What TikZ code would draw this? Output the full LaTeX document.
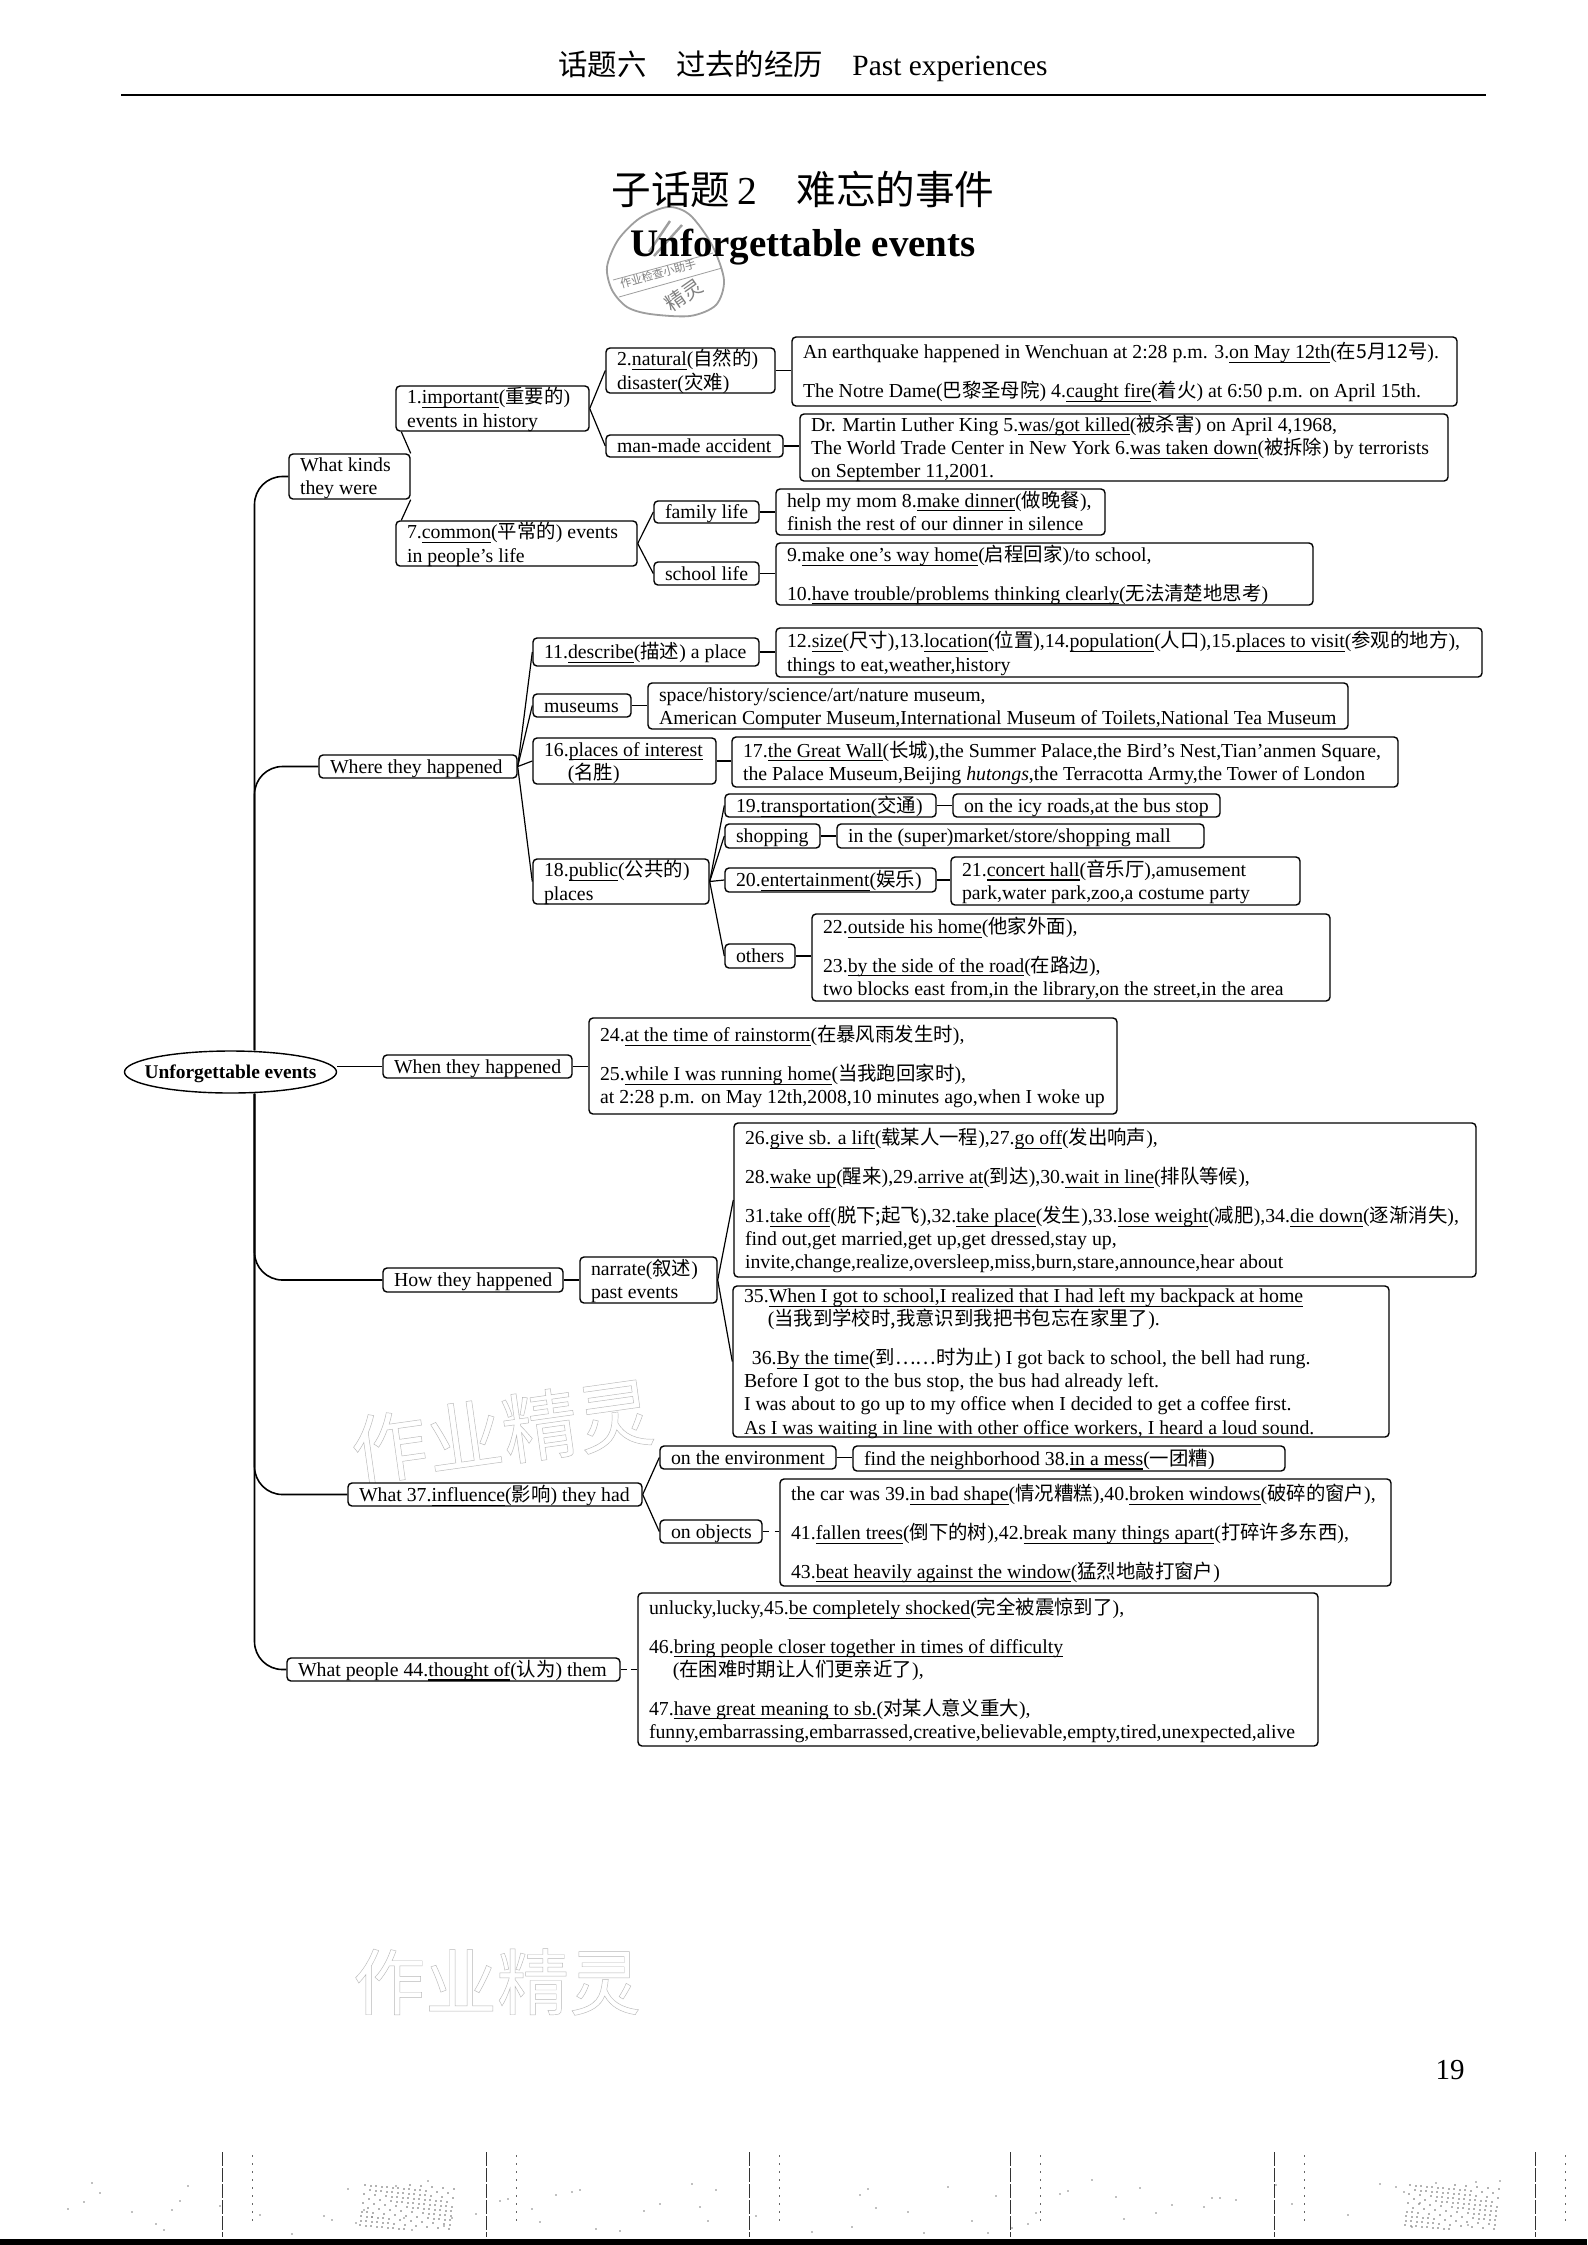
\documentclass[tikz,border=0pt]{standalone}
\usepackage{fontspec}
\setmainfont{Liberation Serif}
\newfontfamily\cjkf{Noto Sans CJK SC}
\newfontfamily\wmf[FakeBold=0.6]{Noto Sans CJK SC}
\usetikzlibrary{shapes.geometric}
\newcommand\zh[1]{{\cjkf\fontsize{9.7}{11.6}\selectfont #1}}
\newsavebox\unbox
\newcommand\un[1]{\sbox\unbox{#1}\rlap{\raisebox{-2.1pt}{\rule{\wd\unbox}{0.55pt}}}\usebox\unbox}
\tikzset{
  mbox/.style={draw=black,line width=0.7pt,rounded corners=2pt,fill=white,inner xsep=5.5pt,inner ysep=0pt,
     font=\fontsize{9.9}{11.6}\selectfont},
  conn/.style={draw=black,line width=0.6pt},
  trunk/.style={draw=black,line width=0.8pt,rounded corners=14pt},
  wm/.style={text=white,inner sep=0pt},
  stampline/.style={draw=black!38,line width=0.7pt},
  scanline/.style={draw=black!80,line width=0.4pt,dash pattern=on 7pt off 1pt},
  scandot/.style={draw=black!60,line width=0.4pt,dash pattern=on 1pt off 3pt},
}
\newcommand\bx[6]{%
  \pgfmathsetmacro\bxw{(#4-#2)*0.5}%
  \pgfmathsetmacro\bxh{(#5-#3)*0.5}%
  \pgfmathsetmacro\bxt{(#4-#2)*0.5-11}%
  \node[mbox,minimum width=\bxw pt,minimum height=\bxh pt] (#1) at ({(#2+#4)/2},{(#3+#5)/2}) {\makebox[\bxt pt][l]{\smash{\raisebox{-3.6pt}{\begin{tabular}{@{}l@{}}#6\end{tabular}}}}};}
\newcommand\gap{\\[7.7pt]}
\newcommand\wmstroke{\special{pdf:code 0.72 G}}
\begin{document}
\begin{tikzpicture}[x=0.5pt,y=-0.5pt]
\useasboundingbox (0,0) rectangle (1587,2245);
\fill[white] (0,0) rectangle (1587,2245);
% header
\node (hdr) at (803,66) {\fontsize{14.7}{16}\selectfont{\cjkf 话题六\quad 过去的经历}\quad Past experiences};
\coordinate (ruleL) at (121,95); \coordinate (ruleR) at (1486,95);
\draw[line width=0.7pt] (ruleL) -- (ruleR);
% stamp
\draw[stampline,line width=0.9pt] plot[smooth cycle] coordinates {(668,207) (690,215) (712,245) (724,280) (716,305) (690,316) (650,314) (627,307) (612,290) (607,267) (618,240) (640,218)};
\coordinate (sa1) at (613,280); \coordinate (sa2) at (713,253);
\coordinate (sb1) at (619,297); \coordinate (sb2) at (722,268);
\draw[stampline,line width=0.4pt] (sa1) -- (sa2);
\draw[stampline,line width=0.4pt] (sb1) -- (sb2);
\coordinate (ear1) at (649,252); \coordinate (ear2) at (670,221);
\draw[stampline,line width=1.2pt] (ear1) -- (ear2);
\draw[stampline,line width=1.2pt] ([xshift=2.5,yshift=-2]ear1) -- ([xshift=6,yshift=-2]ear2);
\node[rotate=16,text=black!50,inner sep=0pt,font=\cjkf\fontsize{5.6}{6}\selectfont] (stampa) at (658,274) {作业检查小助手};
\node[rotate=35,text=black!50,inner sep=0pt,font=\cjkf\fontsize{10}{11}\selectfont] (stampb) at (684,295) {精灵};
\node (title1) at (803,189) {\fontsize{19.8}{21}\selectfont{\cjkf 子话题}\,2\quad{\cjkf 难忘的事件}};
\node (title2) at (803,247) {\fontsize{19.5}{22}\selectfont\bfseries Unforgettable events};
% watermarks
\node[wm,rotate=8] (wm1) at (502,1431) {\wmstroke\wmf\fontsize{38}{40}\selectfont 作业精灵};
\node[wm] (wm2) at (497,1982) {\wmstroke\wmf\fontsize{36}{40}\selectfont 作业精灵};
% level 1
\bx{what}{289}{454}{410}{499}{What kinds\\they were}
\bx{where}{319}{755}{517}{778}{Where they happened}
\bx{when}{383}{1055}{572}{1078}{When they happened}
\bx{how}{383}{1268}{563}{1292}{How they happened}
\bx{infl}{348}{1483}{642}{1506}{What 37.\un{influence}(\zh{影响}) they had}
\bx{think}{287}{1658}{620}{1681}{What people 44.\un{thought of}(\zh{认为}) them}
% what kinds
\bx{imp}{396}{386}{589}{431}{1.\un{important}(\zh{重要的})\\events in history}
\bx{nat}{606}{348}{775}{393}{2.\un{natural}(\zh{自然的})\\disaster(\zh{灾难})}
\bx{quake}{792}{337}{1457}{406}{An earthquake happened in Wenchuan at 2:28 p.m. 3.\un{on May 12th}(\zh{在5月12号}).\gap The Notre Dame(\zh{巴黎圣母院}) 4.\un{caught fire}(\zh{着火}) at 6:50 p.m. on April 15th.}
\bx{man}{606}{435}{783}{457}{man-made accident}
\bx{king}{800}{414}{1448}{481}{Dr. Martin Luther King 5.\un{was/got killed}(\zh{被杀害}) on April 4,1968,\\The World Trade Center in New York 6.\un{was taken down}(\zh{被拆除}) by terrorists\\on September 11,2001.}
\bx{com}{396}{521}{637}{566}{7.\un{common}(\zh{平常的}) events\\in people's life}
\bx{fam}{654}{501}{759}{523}{family life}
\bx{help}{776}{489}{1105}{535}{help my mom 8.\un{make dinner}(\zh{做晚餐}),\\finish the rest of our dinner in silence}
\bx{sch}{654}{562}{759}{585}{school life}
\bx{nine}{776}{543}{1313}{605}{9.\un{make one's way home}(\zh{启程回家})/to school,\gap 10.\un{have trouble/problems thinking clearly}(\zh{无法清楚地思考})}
% where
\bx{desc}{533}{638}{759}{666}{11.\un{describe}(\zh{描述}) a place}
\bx{size}{776}{628}{1482}{677}{12.\un{size}(\zh{尺寸}),13.\un{location}(\zh{位置}),14.\un{population}(\zh{人口}),15.\un{places to visit}(\zh{参观的地方}),\\things to eat,weather,history}
\bx{mus}{533}{694}{631}{717}{museums}
\bx{space}{648}{683}{1348}{729}{space/history/science/art/nature museum,\\American Computer Museum,International Museum of Toilets,National Tea Museum}
\bx{int}{533}{738}{716}{784}{16.\un{places of interest}\\\hspace*{1.2em}(\zh{名胜})}
\bx{wall}{732}{737}{1398}{787}{17.\un{the Great Wall}(\zh{长城}),the Summer Palace,the Bird's Nest,Tian'anmen Square,\\the Palace Museum,Beijing \textit{hutongs},the Terracotta Army,the Tower of London}
\bx{pub}{533}{859}{709}{904}{18.\un{public}(\zh{公共的})\\places}
\bx{trans}{725}{794}{936}{817}{19.\un{transportation}(\zh{交通})}
\bx{icy}{953}{794}{1220}{817}{on the icy roads,at the bus stop}
\bx{shop}{725}{824}{820}{848}{shopping}
\bx{mall}{837}{824}{1204}{848}{in the (super)market/store/shopping mall}
\bx{ent}{725}{868}{936}{892}{20.\un{entertainment}(\zh{娱乐})}
\bx{hall}{951}{857}{1300}{905}{21.\un{concert hall}(\zh{音乐厅}),amusement\\park,water park,zoo,a costume party}
\bx{oth}{725}{944}{795}{968}{others}
\bx{home}{812}{914}{1330}{1001}{22.\un{outside his home}(\zh{他家外面}),\gap 23.\un{by the side of the road}(\zh{在路边}),\\two blocks east from,in the library,on the street,in the area}
% when
\bx{rain}{589}{1018}{1117}{1114}{24.\un{at the time of rainstorm}(\zh{在暴风雨发生时}),\gap 25.\un{while I was running home}(\zh{当我跑回家时}),\\at 2:28 p.m. on May 12th,2008,10 minutes ago,when I woke up}
% how
\bx{nar}{580}{1257}{717}{1303}{narrate(\zh{叙述})\\past events}
\bx{lift}{734}{1123}{1476}{1277}{26.\un{give sb. a lift}(\zh{载某人一程}),27.\un{go off}(\zh{发出响声}),\gap 28.\un{wake up}(\zh{醒来}),29.\un{arrive at}(\zh{到达}),30.\un{wait in line}(\zh{排队等候}),\gap 31.\un{take off}(\zh{脱下;起飞}),32.\un{take place}(\zh{发生}),33.\un{lose weight}(\zh{减肥}),34.\un{die down}(\zh{逐渐消失}),\\find out,get married,get up,get dressed,stay up,\\invite,change,realize,oversleep,miss,burn,stare,announce,hear about}
\bx{sent}{733}{1286}{1389}{1437}{35.\un{When I got to school,I realized that I had left my backpack at home}\\\hspace*{1.2em}(\zh{当我到学校时,我意识到我把书包忘在家里了}).\gap \hspace*{0.4em}36.\un{By the time}(\zh{到……时为止}) I got back to school, the bell had rung.\\Before I got to the bus stop, the bus had already left.\\I was about to go up to my office when I decided to get a coffee first.\\As I was waiting in line with other office workers, I heard a loud sound.}
% influence
\bx{env}{660}{1446}{836}{1469}{on the environment}
\bx{mess}{853}{1446}{1285}{1471}{find the neighborhood 38.\un{in a mess}(\zh{一团糟})}
\bx{obj}{660}{1520}{762}{1543}{on objects}
\bx{car}{780}{1479}{1391}{1586}{the car was 39.\un{in bad shape}(\zh{情况糟糕}),40.\un{broken windows}(\zh{破碎的窗户}),\gap 41.\un{fallen trees}(\zh{倒下的树}),42.\un{break many things apart}(\zh{打碎许多东西}),\gap 43.\un{beat heavily against the window}(\zh{猛烈地敲打窗户})}
% thought
\bx{lucky}{638}{1593}{1318}{1746}{unlucky,lucky,45.\un{be completely shocked}(\zh{完全被震惊到了}),\gap 46.\un{bring people closer together in times of difficulty}\\\hspace*{1.2em}(\zh{在困难时期让人们更亲近了}),\gap 47.\un{have great meaning to sb.}(\zh{对某人意义重大}),\\funny,embarrassing,embarrassed,creative,believable,empty,tired,unexpected,alive}
% root
\node[draw=black,line width=0.7pt,ellipse,minimum width=106pt,minimum height=21pt,inner sep=0pt,fill=white] (root) at (230.5,1072) {\makebox[0pt]{\smash{\raisebox{-3.2pt}{\fontsize{9.7}{11}\selectfont\bfseries Unforgettable events}}}};
% trunk
\coordinate (up) at ([xshift=12]root.north);
\coordinate (dn) at ([xshift=12]root.south);
\draw[trunk] (up) |- (what.west);
\draw[trunk] (up) |- (where.west);
\draw[trunk] (dn) |- (how.west);
\draw[trunk] (dn) |- (infl.west);
\draw[trunk] (dn) |- (think.west);
\draw[conn] (when.west) -- (when.west -| root.east);
\draw[conn] (when.east) -- (rain.west |- when.east);
% what kinds
\draw[conn] (what.north east) -- ([xshift=3]imp.south west);
\draw[conn] (what.south east) -- ([xshift=3]com.north west);
\foreach \c in {nat,man}{\draw[conn] (imp.east) -- (\c.west);}
\foreach \c in {fam,sch}{\draw[conn] (com.east) -- (\c.west);}
\draw[conn] (nat.east) -- (quake.west |- nat.east);
\draw[conn] (man.east) -- (king.west |- man.east);
\draw[conn] (fam.east) -- (help.west |- fam.east);
\draw[conn] (sch.east) -- (nine.west |- sch.east);
% where
\foreach \c in {desc,mus,int,pub}{\draw[conn] (where.east) -- (\c.west);}
\draw[conn] (desc.east) -- (size.west |- desc.east);
\draw[conn] (mus.east) -- (space.west |- mus.east);
\draw[conn] (int.east) -- (wall.west |- int.east);
\foreach \c in {trans,shop,ent,oth}{\draw[conn] (pub.east) -- (\c.west);}
\draw[conn] (trans.east) -- (icy.west);
\draw[conn] (shop.east) -- (mall.west);
\draw[conn] (ent.east) -- (hall.west |- ent.east);
\draw[conn] (oth.east) -- (home.west |- oth.east);
% how
\draw[conn] (how.east) -- (nar.west |- how.east);
\draw[conn] (nar.east) -- (lift.west);
\draw[conn] (nar.east) -- (sent.west);
% infl
\draw[conn] (infl.east) -- (env.west);
\draw[conn] (infl.east) -- (obj.west);
\draw[conn] (env.east) -- (mess.west |- env.east);
\draw[conn,dashed] (obj.east) -- (car.west |- obj.east);
\draw[conn,densely dashed] (think.east) -- (lucky.west |- think.east);
% page number
\node (pg) at (1450,2070) {\fontsize{14.5}{16}\selectfont 19};
% scan marks at the foot of the page
\foreach \x in {222,486,749,1010,1274,1535}{
  \draw[scanline] (\x,2152) -- (\x,2237);
  \draw[scandot] (\x+30,2155) -- (\x+30,2225);
}
\foreach \i in {1,...,130}{
  \pgfmathsetmacro\px{360+mod(\i*37,95)}
  \pgfmathsetmacro\pz{1405+mod(\i*37,95)}
  \pgfmathsetmacro\py{2185+mod(\i*17,45)}
  \fill[black!60] (\px,\py) circle (0.4pt);
  \fill[black!60] (\pz,\py) circle (0.4pt);
}
\foreach \i in {1,...,80}{
  \pgfmathsetmacro\px{60+8*mod(\i*\i,181)}
  \pgfmathsetmacro\py{2180+mod(\i*29,55)}
  \fill[black!50] (\px,\py) circle (0.4pt);
}
% bottom bar
\fill[black] (0,2239) rectangle (1587,2245);
\end{tikzpicture}
\end{document}
